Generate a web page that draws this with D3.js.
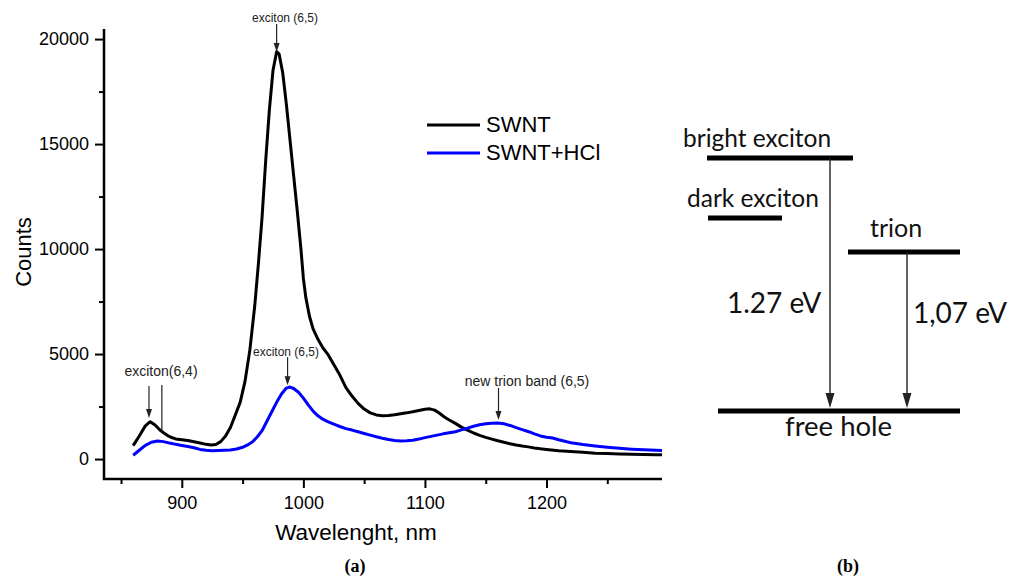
<!DOCTYPE html>
<html>
<head>
<meta charset="utf-8">
<script src="https://cdnjs.cloudflare.com/ajax/libs/d3/7.8.5/d3.min.js"></script>
<style>
    body { margin: 0; background: #fff; }
    svg { display: block; }
</style>
</head>
<body>
<div id="svgWrapper"></div>
<script>
// Wavelength (nm) and counts
const swntWl = [860, 865, 870, 874, 878, 882, 885, 888, 891, 895, 900, 905, 910, 915, 920, 924, 928, 932, 936, 940, 944, 948, 952, 956, 960, 963, 966, 969, 972, 975, 978, 980, 983, 986, 989, 992, 995, 998, 1000, 1002, 1005, 1008, 1012, 1016, 1020, 1025, 1030, 1035, 1040, 1045, 1050, 1055, 1060, 1065, 1070, 1075, 1080, 1085, 1090, 1095, 1100, 1104, 1108, 1112, 1116, 1120, 1125, 1130, 1135, 1140, 1145, 1150, 1155, 1160, 1165, 1170, 1175, 1180, 1185, 1190, 1195, 1200, 1210, 1220, 1230, 1240, 1250, 1260, 1270, 1280, 1290, 1295];
const swntCounts = [640, 1100, 1580, 1780, 1620, 1380, 1250, 1130, 1040, 960, 920, 880, 820, 760, 700, 670, 690, 830, 1100, 1500, 2100, 2700, 3700, 5200, 7300, 9300, 11500, 14200, 16600, 18500, 19400, 19300, 18400, 16900, 15200, 13500, 11800, 10000, 8600, 7700, 6800, 6200, 5700, 5300, 5000, 4500, 4000, 3400, 3000, 2650, 2380, 2200, 2100, 2060, 2070, 2110, 2160, 2200, 2250, 2310, 2370, 2390, 2330, 2180, 2000, 1860, 1700, 1520, 1380, 1240, 1130, 1030, 950, 870, 800, 730, 670, 620, 580, 530, 490, 460, 400, 360, 320, 280, 260, 240, 230, 220, 210, 200];

const hclWl = [860, 865, 870, 875, 880, 885, 890, 895, 900, 905, 910, 915, 920, 925, 930, 935, 940, 945, 950, 955, 958, 962, 966, 970, 974, 978, 982, 986, 989, 992, 996, 1000, 1004, 1008, 1012, 1016, 1020, 1025, 1030, 1035, 1040, 1045, 1050, 1055, 1060, 1065, 1070, 1075, 1080, 1085, 1090, 1095, 1100, 1105, 1110, 1115, 1120, 1125, 1130, 1135, 1140, 1145, 1150, 1155, 1160, 1165, 1170, 1175, 1180, 1186, 1190, 1195, 1200, 1205, 1210, 1220, 1230, 1240, 1250, 1260, 1270, 1280, 1290, 1295];
const hclCounts = [180, 420, 650, 800, 860, 830, 760, 700, 650, 600, 540, 460, 420, 400, 410, 420, 430, 480, 560, 700, 810, 1050, 1350, 1800, 2250, 2700, 3100, 3380, 3430, 3360, 3180, 2900, 2580, 2280, 2060, 1900, 1780, 1660, 1550, 1450, 1380, 1300, 1220, 1140, 1060, 990, 930, 880, 860, 870, 900, 950, 1020, 1080, 1140, 1200, 1250, 1300, 1390, 1470, 1560, 1630, 1680, 1710, 1720, 1680, 1600, 1500, 1400, 1290, 1200, 1100, 1040, 1000, 920, 780, 690, 620, 560, 510, 470, 440, 420, 410];

const seriesNames = ['SWNT', 'SWNT+HCl'];
const seriesColors = ['#000000', '#0000ff'];

const xTicks = [900, 1000, 1100, 1200];
const xMinorTicks = [850, 950, 1050, 1150, 1250];
const yTicks = [0, 5000, 10000, 15000, 20000];
const yMinorTicks = [2500, 7500, 12500, 17500];

// annotation arrows: text, arrow wavelength, tip counts
const notes = [
    { text: 'exciton (6,5)', wl: 978, tip: 19380, size: 12 },
    { text: 'exciton (6,5)', wl: 987, tip: 3520, size: 12 },
    { text: 'exciton(6,4)', wl: 873, tip: 1950, size: 14 },
    { text: 'new trion band (6,5)', wl: 1160.5, tip: 1860, size: 14 }
];

// energy levels for panel (b)
const levelNames = ['bright exciton', 'dark exciton', 'trion', 'free hole'];
const transitionLabels = ['1.27 eV', '1,07 eV'];

const w = 1013;
const h = 579;
const font = '"Liberation Sans", Arial, sans-serif';

const svg = d3.select('#svgWrapper')
    .append('svg')
    .attr('width', w)
    .attr('height', h);

const xScale = d3.scaleLinear()
    .domain([836, 1295])
    .range([104, 662]);

const yScale = d3.scaleLinear()
    .domain([-950, 20480])
    .range([479, 29]);

// axes (Origin style: left + bottom only, ticks outward)
const yAxis = d3.axisLeft(yScale).tickValues(yTicks).tickSize(9).tickPadding(6).tickFormat(d3.format('d'));
const yMinor = d3.axisLeft(yScale).tickValues(yMinorTicks).tickSize(5).tickFormat('');
const xAxis = d3.axisBottom(xScale).tickValues(xTicks).tickSize(9).tickPadding(8).tickFormat(d3.format('d'));
const xMinor = d3.axisBottom(xScale).tickValues(xMinorTicks).tickSize(5).tickFormat('');

svg.append('g')
    .attr('transform', 'translate(104, 0)')
    .attr('class', 'leftAxis')
    .call(yAxis);
svg.append('g')
    .attr('transform', 'translate(104, 0)')
    .call(yMinor);
svg.append('g')
    .attr('transform', 'translate(0, 479)')
    .attr('class', 'bottomAxis')
    .call(xAxis);
svg.append('g')
    .attr('transform', 'translate(0, 479)')
    .call(xMinor);

svg.selectAll('.domain').remove();
svg.selectAll('.tick line').attr('stroke', '#000').attr('stroke-width', 2);
svg.selectAll('.tick text')
    .attr('font-size', 18)
    .attr('font-family', font)
    .attr('fill', '#000');

svg.append('path')
    .attr('d', 'M104,' + yScale.range()[1] + 'V479H' + xScale.range()[1])
    .attr('fill', 'none')
    .attr('stroke', '#000')
    .attr('stroke-width', 2.5);

svg.append('text')
    .attr('transform', 'translate(31, 252) rotate(-90)')
    .attr('text-anchor', 'middle')
    .attr('font-family', font)
    .attr('font-size', 22)
    .text('Counts');

svg.append('text')
    .attr('x', 356)
    .attr('y', 540)
    .attr('text-anchor', 'middle')
    .attr('font-family', font)
    .attr('font-size', 22.5)
    .text('Wavelenght, nm');

// spectra
const line = d3.line()
    .x((d) => xScale(d[0]))
    .y((d) => yScale(d[1]));

const series = [
    d3.zip(swntWl, swntCounts),
    d3.zip(hclWl, hclCounts)
];

svg.selectAll('path.spectrum')
    .data(series)
    .enter()
    .append('path')
    .attr('class', 'spectrum')
    .attr('d', line)
    .attr('fill', 'none')
    .attr('stroke', (d, i) => seriesColors[i])
    .attr('stroke-width', 3)
    .attr('stroke-linejoin', 'round');

// legend
seriesNames.forEach((name, i) => {
    const ly = 125 + i * 28;
    svg.append('line')
        .attr('x1', 427).attr('x2', 480)
        .attr('y1', ly).attr('y2', ly)
        .attr('stroke', seriesColors[i])
        .attr('stroke-width', 3);
    svg.append('text')
        .attr('x', 486)
        .attr('y', ly + 7)
        .attr('font-family', font)
        .attr('font-size', 22)
        .text(name);
});

// arrow helper (vertical, pointing down)
function downArrow(x, y1, y2, headW, headH, sw) {
    svg.append('line')
        .attr('x1', x).attr('x2', x)
        .attr('y1', y1).attr('y2', y2 - headH + 1)
        .attr('stroke', '#222')
        .attr('stroke-width', sw);
    svg.append('path')
        .attr('d', 'M' + (x - headW / 2) + ',' + (y2 - headH) + 'L' + (x + headW / 2) + ',' + (y2 - headH) + 'L' + x + ',' + y2 + 'Z')
        .attr('fill', '#222');
}

notes.forEach((n) => {
    const ax = xScale(n.wl);
    const tipY = yScale(n.tip);
    const len = n.size === 12 ? 28 : 32;
    downArrow(ax, tipY - len, tipY, 6, 9, 1.2);
});

// texts of the notes
const notePos = [[285, 22], [286, 356], [161, 376], [527, 386]];
notes.forEach((n, i) => {
    svg.append('text')
        .attr('x', notePos[i][0])
        .attr('y', notePos[i][1])
        .attr('text-anchor', 'middle')
        .attr('font-family', font)
        .attr('font-size', n.size)
        .attr('fill', '#222')
        .text(n.text);
});

// second plain line for exciton(6,4) shoulder
svg.append('line')
    .attr('x1', xScale(883.6)).attr('x2', xScale(883.6))
    .attr('y1', yScale(1950) - 33).attr('y2', yScale(1290))
    .attr('stroke', '#222')
    .attr('stroke-width', 1.2);

// panel (b): energy diagram
const dFont = 'Lato, "Open Sans", sans-serif';
const levels = [
    { x1: 707, x2: 853, y: 158, tx: 683, ty: 147, size: 24.5 },
    { x1: 708, x2: 782, y: 218, tx: 687, ty: 207, size: 24.5 },
    { x1: 848, x2: 960, y: 252, tx: 870, ty: 237, size: 25 },
    { x1: 718, x2: 960, y: 411, tx: 785, ty: 436, size: 27.5 }
];
levels.forEach((l, i) => {
    svg.append('line')
        .attr('x1', l.x1).attr('x2', l.x2)
        .attr('y1', l.y).attr('y2', l.y)
        .attr('stroke', '#000')
        .attr('stroke-width', 5);
    svg.append('text')
        .attr('x', l.tx).attr('y', l.ty)
        .attr('font-family', dFont)
        .attr('font-size', l.size)
        .attr('fill', '#111')
        .text(levelNames[i]);
});

downArrow(830, 158, 408, 9, 15, 1.4);
downArrow(907, 252, 408, 9, 15, 1.4);

svg.append('text').attr('x', 727).attr('y', 313)
    .attr('font-family', dFont).attr('font-size', 28).attr('fill', '#111')
    .text(transitionLabels[0]);
svg.append('text').attr('x', 913).attr('y', 323)
    .attr('font-family', dFont).attr('font-size', 28).attr('fill', '#111')
    .text(transitionLabels[1]);

// panel captions
svg.append('text').attr('x', 355).attr('y', 572)
    .attr('text-anchor', 'middle')
    .attr('font-family', '"Liberation Serif", "Times New Roman", serif')
    .attr('font-weight', 'bold').attr('font-size', 18)
    .text('(a)');
svg.append('text').attr('x', 848).attr('y', 572)
    .attr('text-anchor', 'middle')
    .attr('font-family', '"Liberation Serif", "Times New Roman", serif')
    .attr('font-weight', 'bold').attr('font-size', 18)
    .text('(b)');
</script>
</body>
</html>
